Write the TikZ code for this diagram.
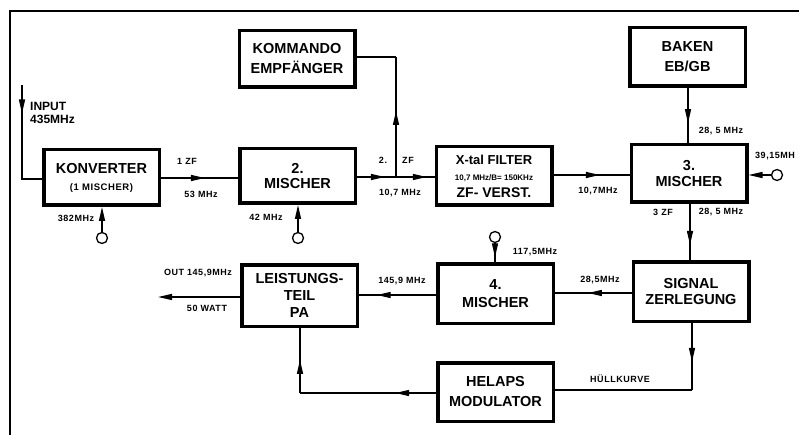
\documentclass[tikz,border=0pt]{standalone}
\usepackage{fontspec}
\setmainfont{Liberation Sans}
\usetikzlibrary{arrows.meta,decorations.markings,calc}
\begin{document}
\begin{tikzpicture}[x=1pt,y=-1pt,
  >={Triangle[length=14pt,width=6pt]},
  box/.style={draw,line width=3.5pt,minimum width=115.5pt,minimum height=57pt,align=center,inner sep=0pt,font=\bfseries\fontsize{14.5}{18}\selectfont},
  lab/.style={font=\bfseries\fontsize{9}{10}\selectfont\addfontfeatures{LetterSpace=6},inner sep=0pt},
  conn/.style={line width=1.4pt},
  osc/.style={circle,draw,line width=1.3pt,minimum size=11pt,inner sep=0pt},
  arrowat/.style={postaction={decorate,decoration={markings,mark=at position #1 with {\arrow{>}}}}}]
\path[use as bounding box,fill=white] (0,0) rectangle (799,435);
% frame
\draw[line width=1.8pt] (799,11) -- (10,11) -- (10,435);
% boxes
\node[box,minimum height=55.5pt] (konv) at (101.5,177.5) {KONVERTER\\[-1pt]{\bfseries\fontsize{9.5}{10}\selectfont\addfontfeatures{LetterSpace=6}(1 MISCHER)}};
\node[box,minimum height=54.5pt,font=\bfseries\fontsize{14.5}{15}\selectfont] (m2) at (297.5,176) {2.\\MISCHER};
\node[box,minimum height=56.5pt,font=\bfseries\fontsize{14.5}{20}\selectfont] (kom) at (297,59) {KOMMANDO\\EMPFÄNGER};
\node[box,minimum height=58.5pt] (filt) at (494,176) {{\fontsize{13}{13}\selectfont X-tal FILTER}\\[-2pt]{\bfseries\fontsize{8}{9}\selectfont 10,7 MHz/B= 150KHz}\\[-1pt]{\fontsize{14}{14}\selectfont ZF- VERST.}};
\node[box,minimum height=57.5pt,font=\bfseries\fontsize{14.5}{16}\selectfont] (m3) at (689,173.5) {3.\\MISCHER};
\node[box,minimum height=58.5pt,font=\bfseries\fontsize{14.5}{20}\selectfont] (bak) at (687.5,57) {BAKEN\\EB/GB};
\node[box,minimum height=61.5pt,font=\bfseries\fontsize{14.5}{17}\selectfont] (pa) at (299.5,295.5) {LEISTUNGS-\\TEIL\\PA};
\node[box,minimum height=59.5pt,font=\bfseries\fontsize{14.5}{18}\selectfont] (m4) at (495.5,293.5) {4.\\MISCHER};
\node[box,minimum height=59.5pt,font=\bfseries\fontsize{14.5}{16}\selectfont] (sig) at (691,291.5) {SIGNAL\\ZERLEGUNG};
\node[box,minimum height=58.5pt,font=\bfseries\fontsize{14.5}{20}\selectfont] (hel) at (495.5,392) {HELAPS\\MODULATOR};
% oscillators
\node[osc] (o1) at (102,238) {};
\node[osc] (o2) at (298,238) {};
\node[osc] (o3) at (777,175) {};
\node[osc] (o4) at (495,237) {};
% coordinates
\coordinate (in) at (22,85);
\coordinate (inc) at (22,179);
\coordinate (br) at (396,177);
\coordinate (brt) at (396,57);
\coordinate (out) at (158,297);
\coordinate (sc) at (692,390);
\coordinate (hc) at (300,393);
% connectors
\draw[conn,arrowat=0.25] (in) -- (inc) -- (inc -| konv.west);
\draw[conn,arrowat=0.57] (konv.east |- 0,178) -- (m2.west |- 0,178);
\draw[conn,->] (o1) -- (o1 |- konv.south);
\draw[conn,->] (o2) -- (o2 |- m2.south);
\draw[conn,arrowat=0.36,arrowat=0.9] (m2.east |- br) -- (filt.west |- br);
\draw[conn,arrowat=0.55] (br) -- (brt);
\draw[conn] (brt) -- (kom.east |- brt);
\draw[conn,arrowat=0.61] (filt.east |- 0,175) -- (m3.west |- 0,175);
\draw[conn,arrowat=0.64] (bak.south -| 688,0) -- (m3.north -| 688,0);
\draw[conn,->] (o3) -- (m3.east |- o3);
\draw[conn,arrowat=0.73] (m3.south -| 690,0) -- (sig.north -| 690,0);
\draw[conn,arrowat=0.57] (sig.west |- 0,293) -- (m4.east |- 0,293);
\draw[conn,arrowat=0.75] (o4) -- (o4 |- m4.north);
\draw[conn,arrowat=0.77] (m4.west |- 0,295) -- (pa.east |- 0,295);
\draw[conn,->] (pa.west |- out) -- (out);
\draw[conn,arrowat=0.58] (sig.south -| sc) -- (sc);
\draw[conn] (sc) -- (hel.east |- sc);
\draw[conn,arrowat=0.3] (hel.west |- hc) -- (hc);
\draw[conn,arrowat=0.51] (hc) -- (hc |- pa.south);
% labels
\node[anchor=north west,inner sep=0pt,align=left,font=\bfseries\fontsize{12}{13}\selectfont] (inl) at (30,102) {INPUT\\435MHz};
\node[lab] (l1) at (187,161) {1 ZF};
\node[lab] (l2) at (201,194) {53 MHz};
\node[lab] (l3) at (76,218) {382MHz};
\node[lab] (l4) at (266,217) {42 MHz};
\node[lab] (l5) at (383,160) {2.};
\node[lab] (l6) at (408,160) {ZF};
\node[lab] (l7) at (400,193) {10,7 MHz};
\node[lab] (l8) at (598,191) {10,7MHz};
\node[lab] (l9) at (721,131) {28, 5 MHz};
\node[lab,anchor=west] (l10) at (755,156) {39,15MH};
\node[lab] (l11) at (663,212) {3 ZF};
\node[lab] (l12) at (721,212) {28, 5 MHz};
\node[lab] (l13) at (600,280) {28,5MHz};
\node[lab] (l14) at (535,252) {117,5MHz};
\node[lab] (l15) at (402,281) {145,9 MHz};
\node[lab] (l16) at (198,273) {OUT 145,9MHz};
\node[lab] (l17) at (207,308) {50 WATT};
\node[lab] (l18) at (620,379) {HÜLLKURVE};
\end{tikzpicture}
\end{document}
